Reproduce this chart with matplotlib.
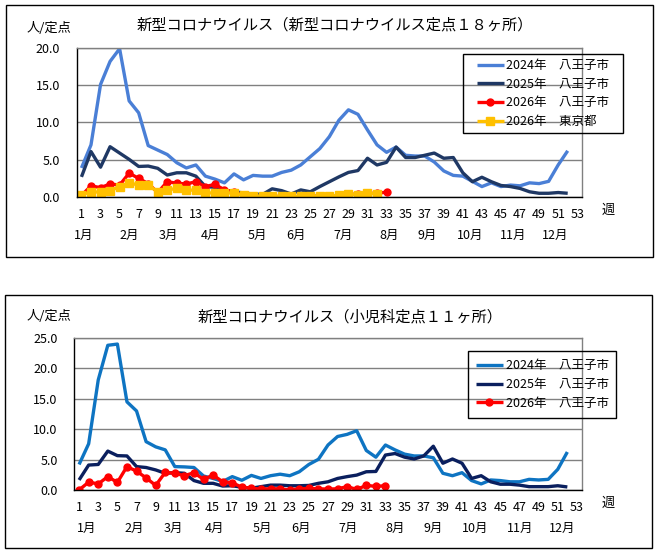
import numpy as np
import matplotlib
matplotlib.use("Agg")
import matplotlib.pyplot as plt
from matplotlib.patches import Rectangle

plt.rcParams["font.family"] = ["Noto Sans CJK JP", "DejaVu Sans"]

# ---------------- Data (per-week values, 人/定点) ----------------
weeks_label = list(range(1, 54, 2))
month_names = ["1月", "2月", "3月", "4月", "5月", "6月", "7月", "8月", "9月", "10月", "11月", "12月"]

# Panel 1: 新型コロナウイルス定点18ヶ所
top_2024 = [3.9, 7.0, 15.1, 18.2, 19.9, 12.9, 11.3, 6.9, 6.3, 5.7, 4.6, 3.9, 4.3, 2.8, 2.4, 1.9,
            3.1, 2.3, 2.9, 2.8, 2.8, 3.3, 3.6, 4.3, 5.4, 6.5, 8.1, 10.3, 11.7, 11.1, 9.0, 7.0,
            6.0, 6.7, 5.6, 5.5, 5.5, 4.7, 3.5, 2.9, 2.8, 2.1, 1.4, 1.9, 1.4, 1.6, 1.5, 1.9,
            1.8, 2.1, 4.3, 6.2]
top_2025 = [2.7, 6.1, 4.0, 6.75, 5.9, 5.05, 4.1, 4.15, 3.85, 2.95, 3.25, 3.25, 2.8, 1.4, 1.3, 0.95,
            0.7, 0.55, 0.4, 0.35, 1.1, 0.85, 0.4, 0.95, 0.7, 1.4, 2.05, 2.7, 3.3, 3.55, 5.2, 4.3,
            4.65, 6.7, 5.3, 5.3, 5.6, 5.9, 5.2, 5.3, 3.25, 2.05, 2.65, 2.05, 1.55, 1.4, 1.15, 0.7,
            0.5, 0.5, 0.6, 0.5]
top_2026_hachioji = [0.2, 1.5, 1.25, 1.75, 1.6, 3.2, 2.5, 1.8, 0.6, 2.05, 1.85, 1.75, 2.05, 1.4, 1.7, 0.95,
                     0.7, 0.15, 0.05, 0.05, 0.1, 0.05, 0.0, 0.05, 0.05, 0.2, 0.05, 0.0, 0.4, 0.35, 0.5, 0.5,
                     0.65]
top_2026_tokyo = [0.3, 0.7, 0.65, 0.85, 1.4, 1.9, 1.6, 1.6, 0.7, 0.95, 1.15, 0.95, 0.9, 0.6, 0.5, 0.6,
                  0.5, 0.25, 0.15, 0.1, 0.1, 0.1, 0.1, 0.1, 0.1, 0.15, 0.1, 0.25, 0.4, 0.3, 0.5, 0.4]

# Panel 2: 小児科定点11ヶ所
bot_2024 = [4.2, 7.6, 18.1, 23.8, 24.0, 14.5, 13.0, 7.95, 7.1, 6.6, 3.85, 3.8, 3.7, 2.3, 1.9, 1.4,
            2.2, 1.6, 2.4, 1.9, 2.35, 2.6, 2.35, 3.0, 4.2, 5.05, 7.4, 8.8, 9.15, 9.75, 6.5, 5.4,
            7.4, 6.6, 5.9, 5.6, 5.6, 5.3, 2.75, 2.35, 2.85, 1.55, 1.0, 1.65, 1.55, 1.35, 1.35, 1.75,
            1.65, 1.75, 3.4, 6.25]
bot_2025 = [1.65, 4.1, 4.2, 6.4, 5.65, 5.6, 3.85, 3.7, 3.3, 2.75, 2.85, 2.75, 1.55, 1.1, 1.1, 0.65,
            0.7, 0.45, 0.3, 0.55, 0.8, 0.8, 0.7, 0.7, 0.75, 1.1, 1.35, 1.9, 2.2, 2.45, 3.0, 3.05,
            5.75, 6.0, 5.4, 5.1, 5.6, 7.2, 4.4, 5.1, 4.4, 1.9, 2.35, 1.35, 0.95, 0.95, 0.8, 0.55,
            0.55, 0.55, 0.7, 0.5]
bot_2026_hachioji = [0.0, 1.3, 1.0, 2.2, 1.25, 3.85, 3.1, 2.0, 0.75, 2.9, 2.75, 2.35, 2.85, 1.75, 2.45, 1.35,
                     1.2, 0.45, 0.3, 0.15, 0.2, 0.2, 0.0, 0.2, 0.25, 0.2, 0.15, 0.2, 0.55, 0.1, 0.75, 0.6,
                     0.7]

# ---------------- Layout (pixels of a 656x552 canvas) ----------------
W, H, DPI = 656, 552, 100
FS = 9

fig = plt.figure(figsize=(W / DPI, H / DPI), dpi=DPI)
fig.patch.set_facecolor("white")


def px_rect(x0, y0, x1, y1):
    # pixel box (top-left origin) -> figure fraction [left, bottom, width, height]
    return [x0 / W, 1 - y1 / H, (x1 - x0) / W, (y1 - y0) / H]


def frame(x0, y0, x1, y1):
    l, b, w, h = px_rect(x0, y0, x1, y1)
    fig.patches.append(Rectangle((l, b), w, h, transform=fig.transFigure,
                                 fill=False, edgecolor="black", linewidth=1.0))


def make_panel(box, series, ymax, title, title_xy, unit_xy, month_pos, legend_box):
    ax = fig.add_axes(px_rect(*box))
    x_all = np.arange(1, 53)
    handles = []
    for vals, label, style in series:
        x = np.arange(1, len(vals) + 1)
        h, = ax.plot(x, vals, label=label, solid_capstyle="butt", **style)
        handles.append(h)

    ax.set_xlim(0.5, 53.5)
    ax.set_ylim(0, ymax)
    ax.set_xticks(weeks_label)
    ax.set_xticklabels([str(w) for w in weeks_label], fontsize=FS)
    yt = np.arange(0, ymax + 0.1, 5)
    ax.set_yticks(yt)
    ax.set_yticklabels([f"{v:.1f}" for v in yt], fontsize=FS)
    ax.tick_params(axis="both", length=0)
    ax.tick_params(axis="x", pad=8)
    ax.tick_params(axis="y", pad=12)

    ax.grid(axis="y", color="#808080", linewidth=1.0)
    ax.set_axisbelow(True)
    for side in ["left", "bottom"]:
        ax.spines[side].set_color("black")
        ax.spines[side].set_linewidth(1.0)
    for side in ["top", "right"]:
        ax.spines[side].set_color("#808080")
        ax.spines[side].set_linewidth(1.0)

    # month captions under the week numbers
    trans = ax.get_xaxis_transform()
    for name, xp in zip(month_names, month_pos):
        ax.text(xp, -0.255, name, transform=trans, ha="center", va="center", fontsize=FS)
    ax.text(56.3, -0.087, "週", transform=trans, ha="center", va="center", fontsize=FS + 0.5)

    fig.text(title_xy[0] / W, 1 - title_xy[1] / H, title, ha="center", va="center", fontsize=11)
    fig.text(unit_xy[0] / W, 1 - unit_xy[1] / H, "人/定点", ha="center", va="center", fontsize=9.5)

    # legend: boxed, entries centred in the box
    lx0, ly0, lx1, ly1 = legend_box
    frame(lx0, ly0, lx1, ly1)
    fig.legend(handles=handles, loc="center",
               bbox_to_anchor=((lx0 + lx1) / 2 / W, 1 - (ly0 + ly1) / 2 / H),
               bbox_transform=fig.transFigure, frameon=False, fontsize=FS,
               handlelength=2.2, handletextpad=0.2, labelspacing=0.45,
               borderpad=0.0, numpoints=1)
    return ax


C24_TOP, C25_TOP = "#4A7FD6", "#1F3864"
C24_BOT, C25_BOT = "#0E74C2", "#0A1F5E"
RED, YEL = "#FF0000", "#FFC000"
LW = 2.4

top_series = [
    (top_2024, "2024年　八王子市", dict(color=C24_TOP, linewidth=LW)),
    (top_2025, "2025年　八王子市", dict(color=C25_TOP, linewidth=LW)),
    (top_2026_hachioji, "2026年　八王子市", dict(color=RED, linewidth=LW, marker="o", markersize=5)),
    (top_2026_tokyo, "2026年　東京都", dict(color=YEL, linewidth=LW, marker="s", markersize=5.5)),
]
bot_series = [
    (bot_2024, "2024年　八王子市", dict(color=C24_BOT, linewidth=LW)),
    (bot_2025, "2025年　八王子市", dict(color=C25_BOT, linewidth=LW)),
    (bot_2026_hachioji, "2026年　八王子市", dict(color=RED, linewidth=LW, marker="o", markersize=5)),
]

# ---------------- Panel frames ----------------
frame(6, 5, 653, 257)
frame(5, 295, 652, 548)

make_panel((76.7, 48, 582, 197), top_series, 20,
           "新型コロナウイルス（新型コロナウイルス定点１８ヶ所）", (335, 25), (49, 28),
           [1.2, 6.0, 10.1, 14.5, 19.4, 23.5, 28.4, 33.3, 37.3, 41.8, 46.3, 50.7],
           (463, 54, 623, 133))
make_panel((74.3, 338, 581.7, 490), bot_series, 25,
           "新型コロナウイルス（小児科定点１１ヶ所）", (350, 317), (49, 316),
           [1.8, 6.8, 10.8, 15.1, 20.1, 24.2, 29.1, 34.0, 38.0, 42.4, 47.1, 51.5],
           (468, 351, 616, 418))

fig.savefig("out.png", dpi=DPI, facecolor="white")
